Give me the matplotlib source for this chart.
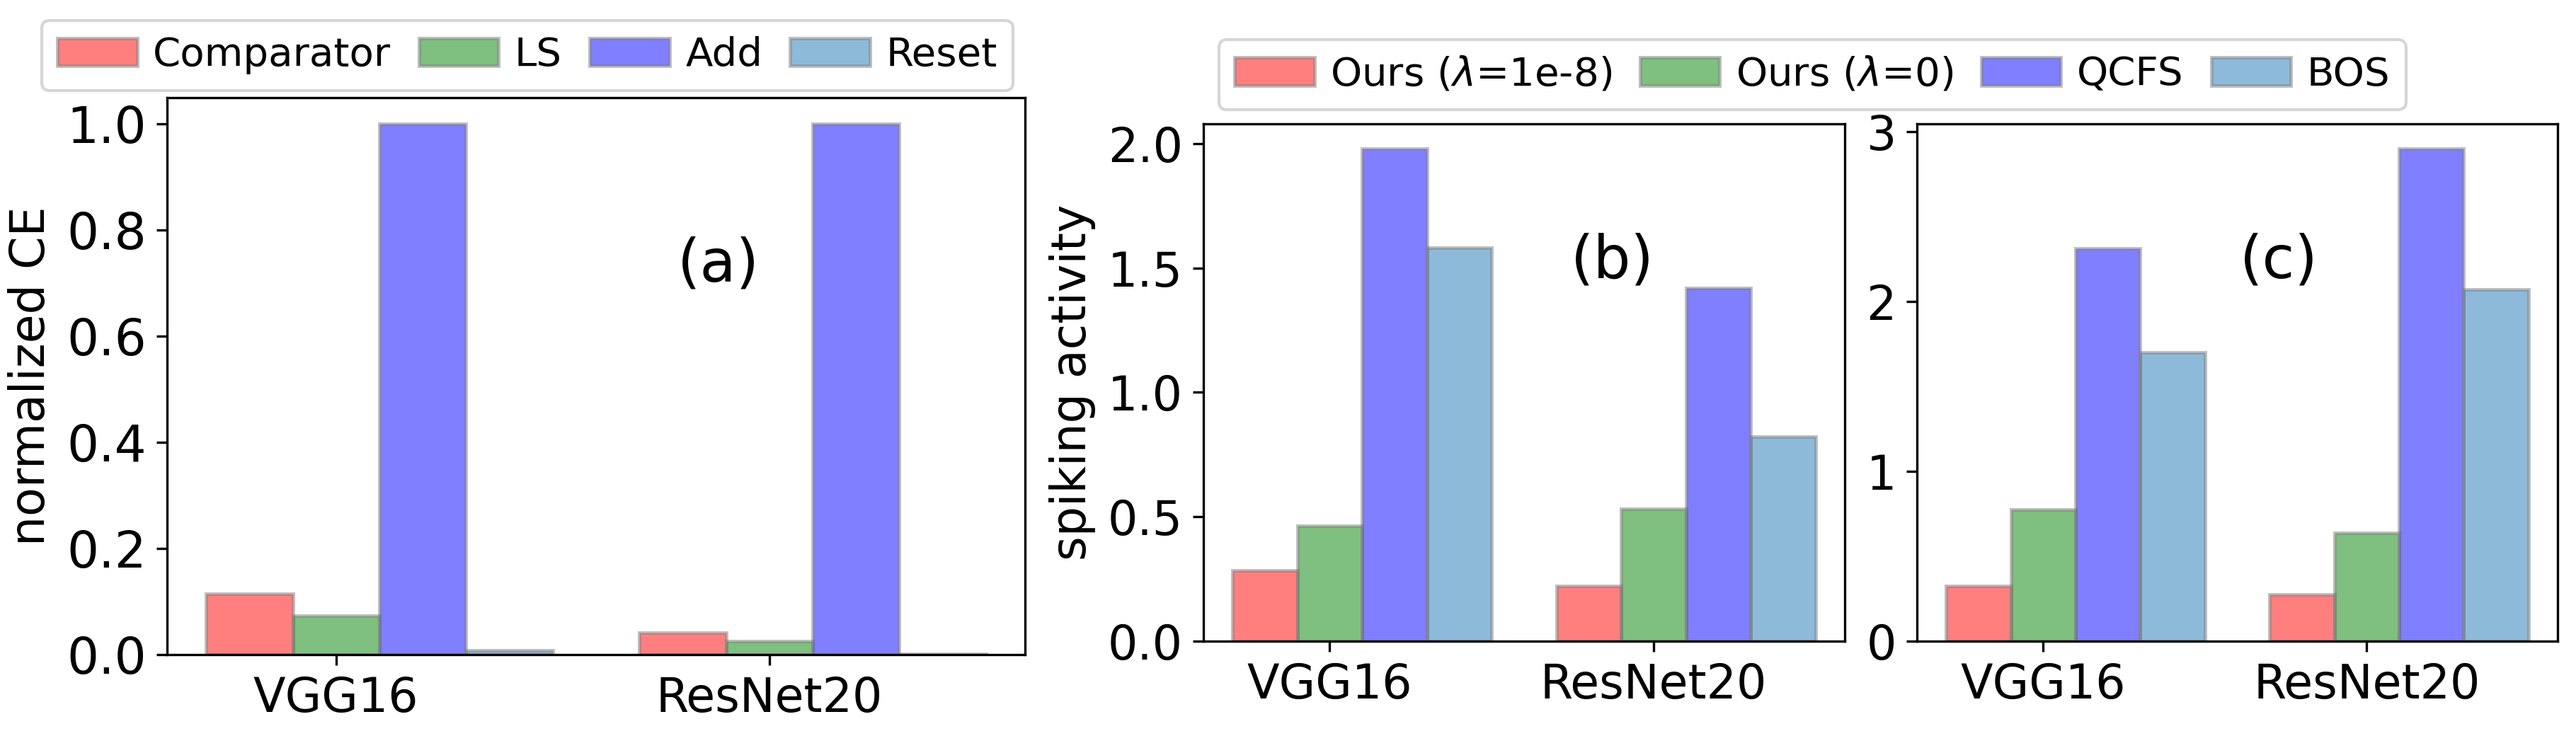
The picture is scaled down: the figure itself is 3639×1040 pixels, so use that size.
import matplotlib
matplotlib.use("Agg")
import matplotlib.pyplot as plt
import numpy as np

# 数据
models = ["VGG16", "ResNet20"]

ce_labels = ["Comparator", "LS", "Add", "Reset"]
ce_comparator = [0.115, 0.042]
ce_ls = [0.074, 0.026]
ce_add = [1.0, 1.0]
ce_reset = [0.008, 0.002]

sa_labels = ["Ours ($\\lambda$=1e-8)", "Ours ($\\lambda$=0)", "QCFS", "BOS"]
# (b)
b_ours_1e8 = [0.284, 0.223]
b_ours_0 = [0.463, 0.533]
b_qcfs = [1.98, 1.42]
b_bos = [1.58, 0.823]
# (c)
c_ours_1e8 = [0.326, 0.276]
c_ours_0 = [0.775, 0.637]
c_qcfs = [2.31, 2.90]
c_bos = [1.70, 2.07]

colors = ["red", "green", "blue", "tab:blue"]
W, H = 3639, 1040
DPI = 300
width = 0.2


def px_axes(fig, left, right, top, bottom):
    return fig.add_axes([left / W, 1 - bottom / H, (right - left) / W, (bottom - top) / H])


def draw_bars(ax, series, labels):
    x = np.arange(len(models))
    for i, (vals, lab) in enumerate(zip(series, labels)):
        ax.bar(x + (i - 1) * width, vals, width, color=colors[i], alpha=0.5,
               edgecolor="gray", linewidth=1.2, label=lab)
    ax.set_xticks(x)
    ax.set_xticklabels(models, fontsize=16)
    ax.tick_params(axis="y", labelsize=16)


fig = plt.figure(figsize=(W / DPI, H / DPI), dpi=DPI)

# (a)
ax1 = px_axes(fig, 236, 1448, 138, 925)
draw_bars(ax1, [ce_comparator, ce_ls, ce_add, ce_reset], ce_labels)
ax1.set_yticks(np.arange(0, 1.01, 0.2))
ax1.tick_params(axis="y", labelsize=17)
ax1.set_ylabel("normalized CE", fontsize=16)
ax1.text(0.643, 0.70, "(a)", transform=ax1.transAxes, fontsize=20, ha="center", va="center")
ax1.legend(ncol=4, fontsize=13.5, loc="lower center", bbox_to_anchor=(0.42, 1.013),
           columnspacing=0.7, handletextpad=0.4, borderaxespad=0)

# (b)
ax2 = px_axes(fig, 1700, 2606, 175, 906)
draw_bars(ax2, [b_ours_1e8, b_ours_0, b_qcfs, b_bos], sa_labels)
ax2.set_ylabel("spiking activity", fontsize=16)
ax2.text(0.638, 0.735, "(b)", transform=ax2.transAxes, fontsize=20, ha="center", va="center")
ax2.legend(ncol=4, fontsize=13.5, loc="lower left", bbox_to_anchor=(0.024, 1.027),
           columnspacing=0.7, handletextpad=0.4, borderaxespad=0)

# (c)
ax3 = px_axes(fig, 2708, 3613, 175, 906)
draw_bars(ax3, [c_ours_1e8, c_ours_0, c_qcfs, c_bos], sa_labels)
ax3.text(0.565, 0.735, "(c)", transform=ax3.transAxes, fontsize=20, ha="center", va="center")

fig.savefig("out.png", dpi=DPI)
